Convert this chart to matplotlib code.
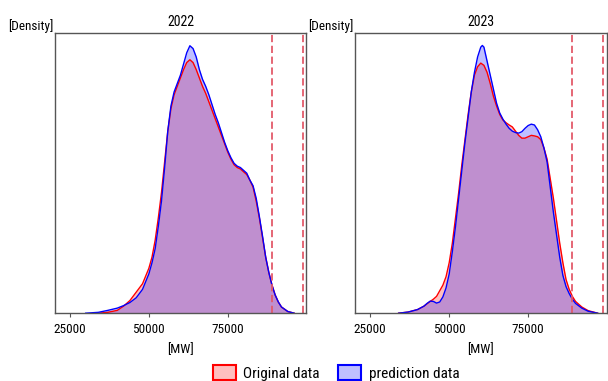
import matplotlib
matplotlib.use("Agg")
import matplotlib.pyplot as plt
from matplotlib.patches import Patch

plt.rcParams['font.family'] = ['Liberation Sans Narrow', 'Roboto Condensed', 'DejaVu Sans']
plt.rcParams['font.stretch'] = 'condensed'

# density curves (height relative to the y-axis top)
x_2022_orig = [34000, 37000, 40000, 42000, 44000, 46000, 47000, 48000, 50000, 51000, 52000, 53000,
               54000, 55000, 56000, 57000, 58000, 59000, 60000, 61000, 62000, 63000, 64000, 65000,
               66000, 67000, 68000, 69000, 70000, 71000, 72000, 73000, 74000, 75000, 76000, 77000,
               78000, 79000, 80000, 81000, 82000, 83000, 84000, 85000, 86000, 87000, 88000, 89000,
               90000, 91000, 92000, 94000, 96000]
d_2022_orig = [0.0, 0.003, 0.010, 0.025, 0.045, 0.075, 0.09, 0.105, 0.16, 0.20, 0.26, 0.34,
               0.43, 0.54, 0.65, 0.73, 0.78, 0.81, 0.84, 0.87, 0.895, 0.905, 0.895, 0.87,
               0.84, 0.81, 0.785, 0.755, 0.725, 0.695, 0.665, 0.635, 0.605, 0.575, 0.55, 0.53,
               0.52, 0.515, 0.505, 0.495, 0.475, 0.45, 0.40, 0.34, 0.27, 0.20, 0.145, 0.10,
               0.065, 0.04, 0.022, 0.006, 0.0]

x_2022_pred = [30000, 34000, 37000, 40000, 42000, 44000, 46000, 48000, 50000, 51000, 52000, 53000,
               54000, 55000, 56000, 57000, 58000, 59000, 60000, 61000, 62000, 63000, 64000, 65000,
               66000, 67000, 68000, 69000, 70000, 71000, 72000, 73000, 74000, 75000, 76000, 77000,
               78000, 79000, 80000, 81000, 82000, 83000, 84000, 85000, 86000, 87000, 88000, 89000,
               90000, 91000, 92000, 94000, 96000]
d_2022_pred = [0.0, 0.003, 0.010, 0.018, 0.027, 0.038, 0.055, 0.085, 0.14, 0.18, 0.23, 0.31,
               0.40, 0.52, 0.65, 0.74, 0.79, 0.82, 0.85, 0.89, 0.93, 0.955, 0.945, 0.915,
               0.87, 0.835, 0.81, 0.78, 0.745, 0.71, 0.68, 0.645, 0.61, 0.58, 0.555, 0.535,
               0.525, 0.52, 0.51, 0.50, 0.475, 0.455, 0.41, 0.345, 0.275, 0.20, 0.145, 0.10,
               0.065, 0.04, 0.022, 0.006, 0.0]

x_2023_orig = [34000, 37000, 40000, 42000, 44000, 45000, 46000, 47000, 48000, 49000, 50000, 51000,
               52000, 53000, 54000, 55000, 56000, 57000, 58000, 59000, 60000, 61000, 62000, 63000,
               64000, 65000, 66000, 67000, 68000, 69000, 70000, 71000, 72000, 73000, 74000, 75000,
               76000, 77000, 78000, 79000, 80000, 81000, 82000, 83000, 84000, 85000, 86000, 87000,
               88000, 89000, 90000, 92000, 94000, 97000]
d_2023_orig = [0.0, 0.004, 0.013, 0.025, 0.042, 0.05, 0.06, 0.08, 0.10, 0.13, 0.18, 0.25,
               0.34, 0.43, 0.53, 0.62, 0.71, 0.79, 0.85, 0.88, 0.893, 0.885, 0.86, 0.82,
               0.775, 0.74, 0.71, 0.69, 0.68, 0.672, 0.665, 0.65, 0.635, 0.625, 0.625, 0.63,
               0.635, 0.633, 0.63, 0.62, 0.59, 0.55, 0.48, 0.41, 0.33, 0.25, 0.18, 0.12,
               0.085, 0.06, 0.042, 0.022, 0.009, 0.0]

x_2023_pred = [34000, 37000, 40000, 42000, 43000, 44000, 45000, 46000, 47000, 48000, 49000, 50000,
               51000, 52000, 53000, 54000, 55000, 56000, 57000, 58000, 59000, 60000, 60500, 61000,
               62000, 63000, 64000, 65000, 66000, 67000, 68000, 69000, 70000, 71000, 72000, 73000,
               74000, 75000, 76000, 77000, 78000, 79000, 80000, 81000, 82000, 83000, 84000, 85000,
               86000, 87000, 88000, 89000, 90000, 92000, 94000, 97000]
d_2023_pred = [0.0, 0.004, 0.013, 0.025, 0.035, 0.043, 0.042, 0.036, 0.040, 0.058, 0.09, 0.14,
               0.22, 0.31, 0.41, 0.51, 0.61, 0.70, 0.79, 0.86, 0.915, 0.95, 0.956, 0.95,
               0.90, 0.85, 0.80, 0.75, 0.715, 0.693, 0.675, 0.66, 0.65, 0.645, 0.643, 0.648,
               0.66, 0.67, 0.675, 0.672, 0.655, 0.63, 0.59, 0.54, 0.45, 0.36, 0.28, 0.20,
               0.135, 0.095, 0.07, 0.05, 0.035, 0.018, 0.007, 0.0]

years = ['2022', '2023']
limits = [89000, 98800]
x_ticks = [25000, 50000, 75000]

curves = {
    '2022': ((x_2022_orig, d_2022_orig), (x_2022_pred, d_2022_pred)),
    '2023': ((x_2023_orig, d_2023_orig), (x_2023_pred, d_2023_pred)),
}

fig = plt.figure(figsize=(6.08, 3.81), dpi=100)
ax1 = fig.add_axes([0.090, 0.178, 0.414, 0.735])
ax2 = fig.add_axes([0.584, 0.178, 0.414, 0.735])

for ax, yr in zip([ax1, ax2], years):
    (xo, do), (xp, dp) = curves[yr]
    ax.fill_between(xo, do, color='red', alpha=0.25, lw=0)
    ax.plot(xo, do, color='red', lw=1)
    ax.fill_between(xp, dp, color='blue', alpha=0.25, lw=0)
    ax.plot(xp, dp, color='blue', lw=1)
    for v in limits:
        ax.axvline(v, color='#e35a6a', ls=(0, (4, 2)), lw=1.3)
    ax.set_xlim(20200, 99900)
    ax.set_ylim(0, 1.0)
    ax.set_yticks([])
    ax.set_xticks(x_ticks)
    ax.tick_params(axis='x', labelsize=9.5, length=3, pad=4, color='#555555')
    ax.set_xlabel('[MW]', fontsize=9.5, labelpad=5)
    ax.set_title(yr, fontsize=10, pad=5)
    ax.text(-0.005, 1.0, '[Density]', transform=ax.transAxes, ha='right', va='bottom', fontsize=9.5)
    for s in ax.spines.values():
        s.set_color('#555555')
        s.set_linewidth(1)

handles = [Patch(facecolor=(1, 0, 0, 0.25), edgecolor='red', lw=1.5, label='Original data'),
           Patch(facecolor=(0, 0, 1, 0.25), edgecolor='blue', lw=1.5, label='prediction data')]
fig.legend(handles=handles, loc='lower center', bbox_to_anchor=(0.553, -0.035), ncol=2,
           frameon=False, fontsize=11, handlelength=1.5, handleheight=1.2,
           handletextpad=0.5, columnspacing=1.2)

fig.savefig('out.png', dpi=100)
